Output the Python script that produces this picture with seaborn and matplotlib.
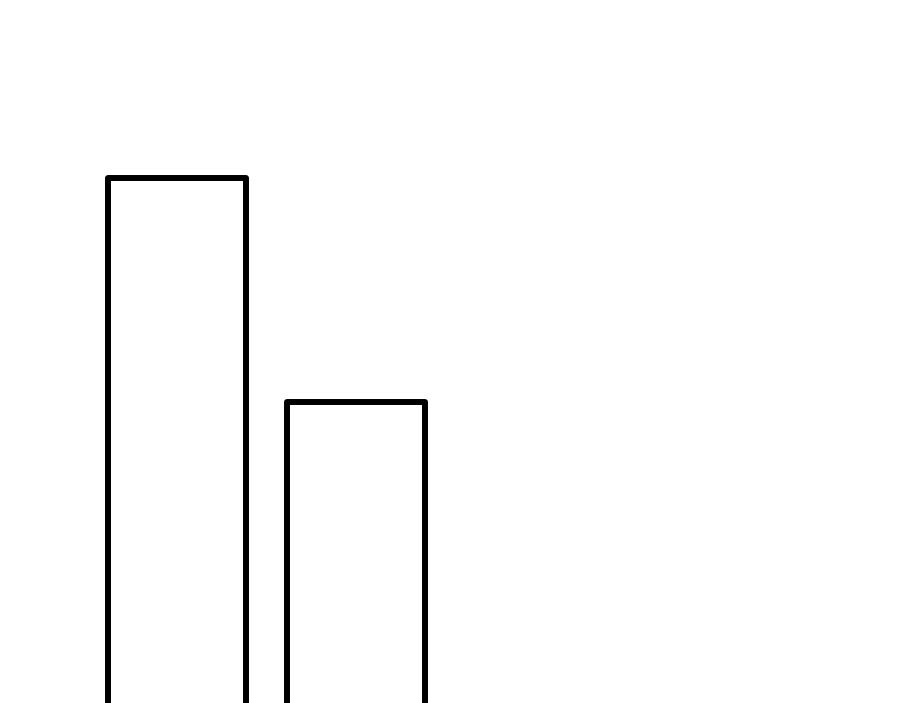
import matplotlib
matplotlib.use("Agg")
import matplotlib.pyplot as plt
import pandas as pd
import seaborn as sns

# values (the baseline lies below the visible area)
categories = ["A", "B"]
values = [10, 6]

df = pd.DataFrame({"category": categories, "value": values})

fig = plt.figure(figsize=(9, 7.03), dpi=100)
ax = fig.add_axes([0, 0, 1, 1])

sns.barplot(data=df, x="category", y="value", ax=ax, width=0.77,
            color="white", edgecolor="black", linewidth=4.3, saturation=1)

for p in ax.patches:
    p.set_joinstyle("round")
    p.set_clip_on(False)

ax.set_xlim(-0.989, 4.039)
ax.set_ylim(0.625, 13.18)
ax.axis("off")

fig.savefig("out.png", dpi=100, facecolor="white")
